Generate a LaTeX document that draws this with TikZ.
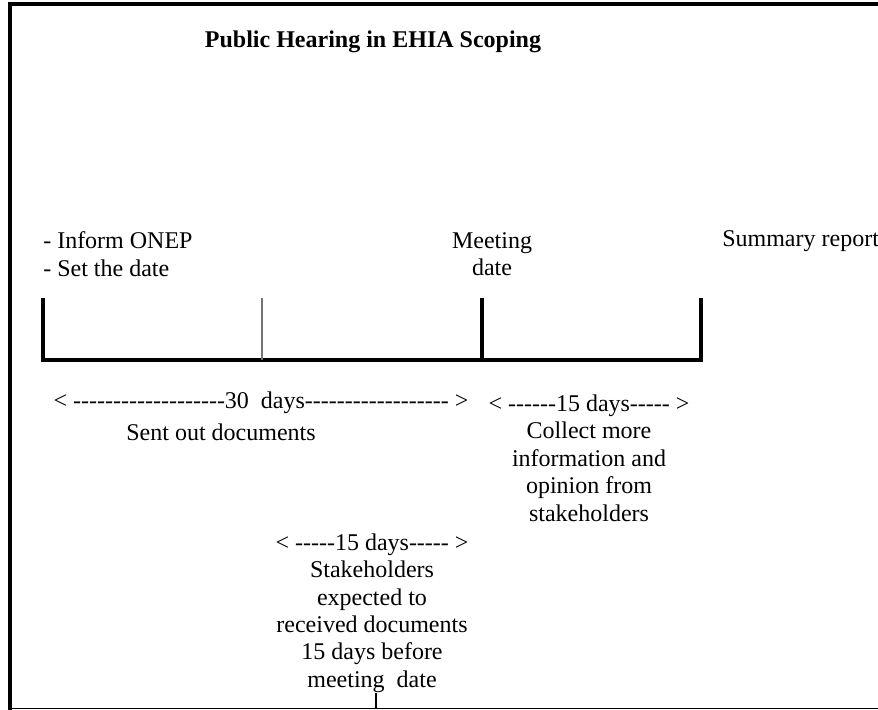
\documentclass[tikz,border=0pt]{standalone}
\usepackage{fontspec}
\setmainfont{Liberation Serif}
\usepackage{tikz}
\usetikzlibrary{calc}
\tikzstyle{bar} = [line width=3.4pt]
\tikzstyle{thinbar} = [line width=1.1pt,black!55]
\tikzstyle{lbl} = [inner sep=0pt,align=center,font=\fontsize{18}{20.6}\selectfont]
% a run of plain hyphens, kept apart so they do not join into dashes
\newcommand{\dashrun}[1]{\foreach \k in {1,...,#1}{-\kern0pt}}

\begin{document}
\begin{tikzpicture}[x=0.75pt,y=-0.75pt]
            \useasboundingbox (0,0) rectangle (878,710);
            % frame
            \draw[line width=3pt] (878,4) -- (9.5,4) -- (9.5,710);
            \draw[line width=0.9pt] (9.5,708.6) -- (878,708.6);

            % time line
            \coordinate (T0) at (43,360);
            \coordinate (T1) at (262,360);
            \coordinate (T2) at (482,360);
            \coordinate (T3) at (701,360);
            \draw[bar,line join=miter] ($(T0)+(0,-62)$) -- (T0) -- (T3) -- ($(T3)+(0,-62)$);
            \draw[bar] (T2) -- ($(T2)+(0,-62)$);
            \draw[thinbar] (T1) -- ($(T1)+(0,-62)$);

            % labels above
            \node[lbl,font=\bfseries\fontsize{18}{20.6}\selectfont] (title) at (373,42) {Public Hearing in EHIA Scoping};
            \node[lbl,anchor=west,align=left] (inform) at (43,254) {- Inform ONEP\\- Set the date};
            \node[lbl] (meeting) at (492,254) {Meeting\\date};
            \node[lbl,anchor=west] (summary) at (722,241) {Summary report};

            % labels below
            \node[lbl] (thirty) at (261,403) {<\ \dashrun{19}30\ \ days\dashrun{18}\ >};
            \node[lbl] (sent) at (221,432) {Sent out documents};
            \node[lbl] (collect) at (589,458) {<\ \dashrun{6}15 days\dashrun{5}\ >\\Collect more\\information and\\opinion from\\stakeholders};
            \node[lbl] (expect) at (372,613) {<\ \dashrun{5}15 days\dashrun{5}\ >\\Stakeholders\\expected to\\received documents\\15 days before\\meeting\ \ date};
            \coordinate (foot) at (376,709);
            \draw[line width=0.9pt] (expect.south -| foot) -- (foot);
\end{tikzpicture}
\end{document}
